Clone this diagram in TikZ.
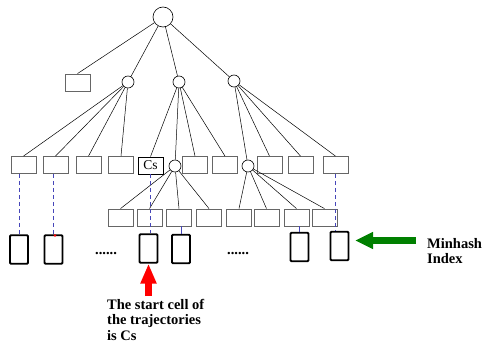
\documentclass[tikz,border=0pt]{standalone}
\usepackage{fontspec}
\setmainfont{Liberation Serif}
\usetikzlibrary{arrows.meta}
\definecolor{dashblue}{RGB}{70,70,185}
\definecolor{mhgreen}{RGB}{0,128,0}
\begin{document}
\begin{tikzpicture}[x=1pt,y=-1pt,
 cell/.style={draw=black!60, line width=0.8pt, minimum width=25pt, minimum height=17pt, inner sep=0pt},
 knot/.style={circle, draw, line width=0.6pt, fill=white, minimum size=12pt, inner sep=0pt},
 mh/.style={draw, line width=1.8pt, rounded corners=1pt, minimum width=18pt, minimum height=28.5pt, inner sep=0pt},
 edge/.style={line width=0.5pt},
 link/.style={draw=dashblue, line width=0.9pt, dash pattern=on 4pt off 3pt},
 shortlink/.style={draw=dashblue, line width=0.9pt},
 lbl/.style={inner sep=0pt, align=left, font=\bfseries\fontsize{14.5}{15.5}\selectfont},
 dots/.style={inner sep=0pt, anchor=base, font=\bfseries\fontsize{14.5}{16}\selectfont}
]
\useasboundingbox (0,0) rectangle (482,345);

% top levels
\node[knot, minimum size=20pt] (root) at (163,17) {};
\node[cell] (s0) at (77.5,82.5) {};
\node[knot] (k1) at (128,82) {};
\node[knot] (k2) at (179,82) {};
\node[knot] (k3) at (234,81) {};

% level 2
\node[cell] (r1) at (23.5,165) {};
\node[cell] (r2) at (55.5,165) {};
\node[cell] (r3) at (88.5,165) {};
\node[cell] (r4) at (121,165) {};
\node[cell, draw=black, font=\fontsize{13.5}{14}\selectfont] (cs) at (150.5,165.5) {Cs};
\node[knot] (k4) at (175,166) {};
\node[cell] (r5) at (195,165) {};
\node[cell] (r6) at (225,165) {};
\node[knot] (k5) at (248,166) {};
\node[cell] (r7) at (269.5,165) {};
\node[cell] (r8) at (300.5,165) {};
\node[cell] (r9) at (335.5,165) {};

% level 3
\node[cell] (l1) at (120.5,217.5) {};
\node[cell] (l2) at (149.5,217.5) {};
\node[cell] (l3) at (179,217.5) {};
\node[cell] (l4) at (209,217.5) {};
\node[cell] (l5) at (239,217.5) {};
\node[cell] (l6) at (266.5,217.5) {};
\node[cell] (l7) at (296.5,217.5) {};
\node[cell] (l8) at (324.5,217.5) {};

% minhash index cells
\node[mh] (b1) at (19,249.5) {};
\node[mh] (b2) at (53.5,249.5) {};
\node[mh] (b3) at (148.5,248.5) {};
\node[mh] (b4) at (181,249) {};
\node[mh] (b5) at (299.5,247) {};
\node[mh] (b6) at (339.5,246) {};

\node[dots] (d1) at (106,254) {......};
\node[dots] (d2) at (238,254) {......};

% tree edges
\draw[edge] (root) -- (s0.north);
\draw[edge] (root) -- (k1);
\draw[edge] (root) -- (k2);
\draw[edge] (root) -- (k3);
\foreach \t in {r1,r2,r3,r4} \draw[edge] (k1) -- (\t.north);
\foreach \t in {cs,r5,r6} \draw[edge] (k2) -- (\t.north);
\draw[edge] (k2) -- (k4);
\draw[edge] (k3) -- (k5);
\foreach \t in {r7,r8,r9} \draw[edge] (k3) -- (\t.north);
\foreach \t in {l1,l2,l3,l4} \draw[edge] (k4) -- (\t.north);
\foreach \t in {l5,l6,l7,l8} \draw[edge] (k5) -- (\t.north);

% links to the minhash index
\draw[link] (b1.north |- r1.south) -- (b1.north);
\draw[link] (b2.north |- r2.south) -- (b2.north);
\draw[link] (cs.south) -- (cs.south |- b3.north);
\draw[shortlink] (b4.north |- l3.south) -- (b4.north);
\draw[shortlink] (b5.north |- l7.south) -- (b5.north);
\draw[link] (r9.south) -- (r9.south |- b6.north);
\node[circle, fill=red, inner sep=0pt, minimum size=2.6pt] (rd) at (55,235.5) {};

% pointers
\coordinate (rbase) at (148.5,296);
\draw[red, line width=7pt, -{Triangle[width=15pt,length=20pt]}] (rbase) -- (b3.south);
\coordinate (gbase) at (416,240.5);
\coordinate (gtip) at (355,240.5);
\draw[mhgreen, line width=6.5pt, -{Triangle[width=16pt,length=18pt]}] (gbase) -- (gtip);

% labels
\node[lbl, anchor=north west] (start) at (107,299) {The start cell of\\the trajectories\\is Cs};
\node[lbl, anchor=north west] (mi) at (427,238) {Minhash\\Index};
\end{tikzpicture}
\end{document}
